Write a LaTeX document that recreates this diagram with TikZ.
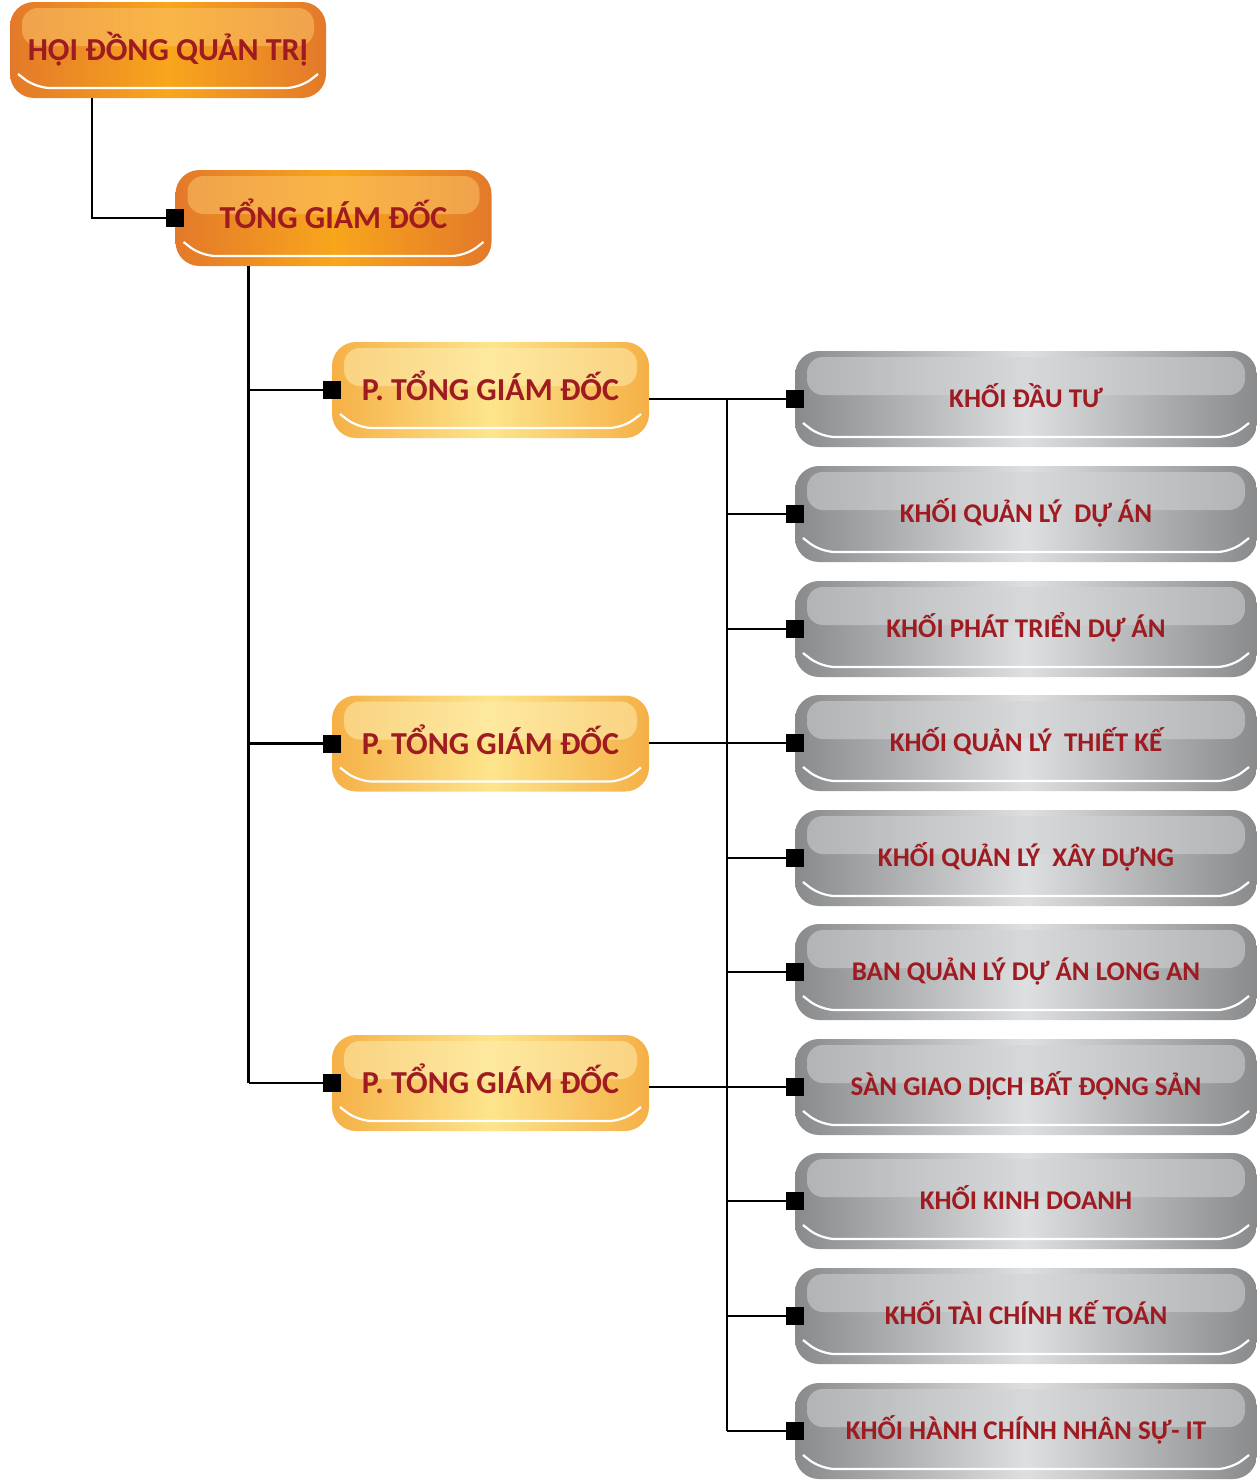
\documentclass[tikz,border=0pt]{standalone}
\usepackage{fontspec}
\setmainfont{Carlito}
\usetikzlibrary{arrows.meta}

\definecolor{chudo}{HTML}{9E1B21}
\definecolor{camvien}{HTML}{E3792A}
\definecolor{camgiua}{HTML}{F8A61C}
\definecolor{camsang}{HTML}{FBC36A}
\definecolor{vangvien}{HTML}{F5B046}
\definecolor{vanggiua}{HTML}{FDE58C}
\definecolor{vangsang}{HTML}{FEEDB0}
\definecolor{xamvien}{HTML}{898A8C}
\definecolor{xamgiua}{HTML}{DEDFE1}
\definecolor{xamsang}{HTML}{D2D3D5}

\tikzset{
  hop/.style={rounded corners=24pt, minimum height=96pt, inner sep=0pt, text=chudo},
  bong/.style={path picture={
      % vet sang phia tren
      \fill[fill=#1, fill opacity=0.55, rounded corners=16pt]
        ([xshift=12pt,yshift=-6pt]path picture bounding box.north west) rectangle
        ([xshift=-12pt,yshift=-44pt]path picture bounding box.north east);
      % vien trang phia duoi
      \draw[white, line width=2.2pt, rounded corners=14pt]
        ([xshift=8pt,yshift=24pt]path picture bounding box.south west) --
        ([xshift=26pt,yshift=10pt]path picture bounding box.south west) --
        ([xshift=-26pt,yshift=10pt]path picture bounding box.south east) --
        ([xshift=-8pt,yshift=24pt]path picture bounding box.south east);
  }},
  hopcam/.style={hop, minimum width=316pt, left color=camvien, right color=camvien,
    middle color=camgiua, bong=camsang, text height=21pt, text depth=0pt,
    font=\bfseries\fontsize{32}{32}\selectfont},
  hopvang/.style={hop, minimum width=317pt, left color=vangvien, right color=vangvien,
    middle color=vanggiua, bong=vangsang, text height=21pt, text depth=0pt,
    font=\bfseries\fontsize{32}{32}\selectfont},
  hopxam/.style={hop, minimum width=462pt, left color=xamvien, right color=xamvien,
    middle color=xamgiua, bong=xamsang, text height=17pt, text depth=0pt,
    font=\bfseries\fontsize{27}{27}\selectfont},
  noi/.style={line width=2.5pt},
  dau/.style={noi, -{Square[length=18pt,width=18pt]}}
}

\begin{document}
\begin{tikzpicture}[x=1pt,y=-1pt]
    \useasboundingbox (0,0) rectangle (1257,1483);

    % cap tren
    \node[hopcam] (hdqt) at (168,50) {HỘI ĐỒNG QUẢN TRỊ};
    \node[hopcam] (tgd) at (333.5,218) {TỔNG GIÁM ĐỐC};

    % pho tong giam doc
    \node[hopvang] (ptgd1) at (490.5,390) {P. TỔNG GIÁM ĐỐC};
    \node[hopvang] (ptgd2) at (490.5,743.5) {P. TỔNG GIÁM ĐỐC};
    \node[hopvang] (ptgd3) at (490.5,1083) {P. TỔNG GIÁM ĐỐC};

    % cac khoi
    \node[hopxam] (khoi1) at (1026,399) {KHỐI ĐẦU TƯ};
    \node[hopxam] (khoi2) at (1026,514) {KHỐI QUẢN LÝ~ DỰ ÁN};
    \node[hopxam] (khoi3) at (1026,629) {KHỐI PHÁT TRIỂN DỰ ÁN};
    \node[hopxam] (khoi4) at (1026,743) {KHỐI QUẢN LÝ~ THIẾT KẾ};
    \node[hopxam] (khoi5) at (1026,858) {KHỐI QUẢN LÝ~ XÂY DỰNG};
    \node[hopxam] (khoi6) at (1026,972) {BAN QUẢN LÝ DỰ ÁN LONG AN};
    \node[hopxam] (khoi7) at (1026,1087) {SÀN GIAO DỊCH BẤT ĐỘNG SẢN};
    \node[hopxam] (khoi8) at (1026,1201) {KHỐI KINH DOANH};
    \node[hopxam] (khoi9) at (1026,1316) {KHỐI TÀI CHÍNH KẾ TOÁN};
    \node[hopxam] (khoi10) at (1026,1431) {KHỐI HÀNH CHÍNH NHÂN SỰ- IT};

    % duong noi ben trai
    \draw[dau] ([xshift=-76pt]hdqt.south) |- ([xshift=9pt]tgd.west);
    \draw[noi] ([xshift=-85pt]tgd.south) -- ([xshift=-85pt]tgd.south |- ptgd3.west);
    \draw[dau] ([xshift=-83pt]ptgd1.west) -- ([xshift=9pt]ptgd1.west);
    \draw[dau] ([xshift=-83pt]ptgd2.west) -- ([xshift=9pt]ptgd2.west);
    \draw[dau] ([xshift=-83pt]ptgd3.west) -- ([xshift=9pt]ptgd3.west);

    % duong noi ben phai
    \draw[noi] ([xshift=-68pt]khoi1.west) -- ([xshift=-68pt]khoi10.west);
    \draw[dau] (ptgd1.east |- khoi1.west) -- ([xshift=9pt]khoi1.west);
    \draw[dau] (ptgd2.east |- khoi4.west) -- ([xshift=9pt]khoi4.west);
    \draw[dau] (ptgd3.east |- khoi7.west) -- ([xshift=9pt]khoi7.west);
    \draw[dau] ([xshift=-68pt]khoi2.west) -- ([xshift=9pt]khoi2.west);
    \draw[dau] ([xshift=-68pt]khoi3.west) -- ([xshift=9pt]khoi3.west);
    \draw[dau] ([xshift=-68pt]khoi5.west) -- ([xshift=9pt]khoi5.west);
    \draw[dau] ([xshift=-68pt]khoi6.west) -- ([xshift=9pt]khoi6.west);
    \draw[dau] ([xshift=-68pt]khoi8.west) -- ([xshift=9pt]khoi8.west);
    \draw[dau] ([xshift=-68pt]khoi9.west) -- ([xshift=9pt]khoi9.west);
    \draw[dau] ([xshift=-68pt]khoi10.west) -- ([xshift=9pt]khoi10.west);
\end{tikzpicture}
\end{document}
